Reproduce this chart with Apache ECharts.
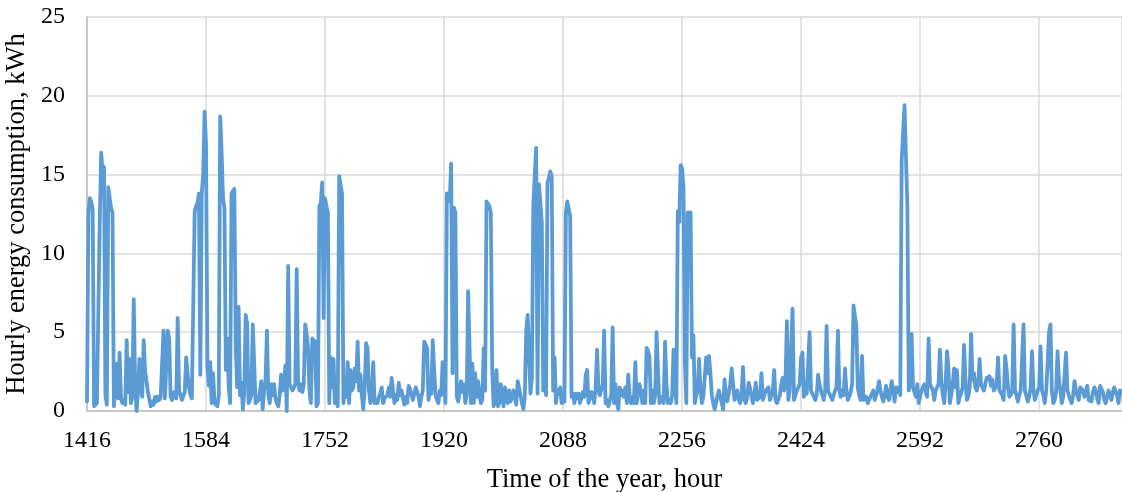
<!DOCTYPE html>
<html><head><meta charset="utf-8">
<script src="https://cdn.jsdelivr.net/npm/echarts@6/dist/echarts.min.js"></script>
<style>html,body{margin:0;padding:0;background:#fff}#c{width:1122px;height:492px}</style>
</head><body><div id="c"></div>
<script>
// Hour of the year at which the series starts and the sampling step (hours)
const startHour = 1416;
const stepHours = 2;
// X tick labels (hour of the year)
const xTicks = [1416, 1584, 1752, 1920, 2088, 2256, 2424, 2592, 2760];
// Y tick labels (kWh)
const yTicks = [0, 5, 10, 15, 20, 25];
// Hourly energy consumption, kWh, read every 2 hours (one row = one day)
const consumption = [
  0.6,12.5,13.5,13.3,12.8,0.3,0.2,0.5,0.4,12.0,16.4,15.2,
  15.5,1.0,0.4,14.2,13.5,12.9,12.6,0.3,0.2,3.0,0.8,3.7,
  0.8,0.5,0.7,0.4,4.5,1.2,3.3,0.5,0.9,7.1,1.5,0.0,
  1.2,3.3,1.5,0.9,4.5,2.5,1.9,1.2,1.1,0.3,0.6,0.4,
  0.9,0.6,0.9,0.7,0.9,1.0,5.1,0.8,0.7,5.1,4.6,0.9,
  0.7,1.2,1.0,0.8,5.9,1.3,1.0,0.7,0.8,1.2,3.4,2.4,
  1.5,1.0,0.8,0.7,12.6,13.0,13.2,13.8,2.3,13.8,15.0,19.0,
  17.0,2.9,1.6,3.1,0.5,2.4,0.5,0.4,0.3,1.0,18.7,16.5,
  13.5,12.9,2.6,4.6,1.6,0.5,13.8,13.9,14.1,4.0,1.5,6.6,
  1.0,1.8,0.1,1.2,6.1,5.6,0.5,0.7,1.0,5.5,5.6,0.5,
  0.6,0.7,1.2,1.9,0.1,1.3,1.9,5.1,1.0,0.5,1.7,1.0,
  1.7,0.8,0.5,0.3,1.0,2.3,1.3,1.5,2.9,0.0,9.2,1.7,
  1.7,1.3,1.5,1.7,9.0,1.8,1.3,1.7,1.2,1.7,5.5,4.9,
  4.0,1.3,0.5,4.6,4.5,4.4,0.3,0.5,13.0,13.2,14.5,5.9,
  13.5,13.0,12.6,0.5,3.4,1.5,3.3,0.5,0.7,0.3,14.9,15.0,
  13.8,0.5,1.2,0.9,3.1,0.5,2.6,1.3,1.5,2.7,1.9,4.4,
  1.3,2.3,1.0,0.1,1.5,4.3,4.0,1.3,0.5,1.0,3.1,0.5,
  0.7,0.5,0.9,1.1,1.5,0.5,0.8,0.7,1.0,1.5,0.9,2.1,
  1.3,0.5,1.0,0.7,1.8,1.0,1.3,0.8,0.4,0.9,0.5,1.6,
  1.4,1.5,0.7,1.1,1.5,1.4,0.9,0.3,0.9,1.3,4.4,4.3,
  4.0,0.7,1.3,1.1,4.5,2.7,1.0,0.7,0.5,1.3,1.0,3.1,
  1.8,0.5,13.8,13.5,13.3,15.7,2.4,12.9,12.6,0.9,0.6,0.5,
  1.9,1.2,1.7,0.5,1.0,7.6,7.5,0.5,3.0,0.5,2.4,0.9,
  1.9,1.0,0.5,0.7,4.0,1.3,13.3,13.2,13.0,12.6,2.6,0.3,
  0.8,2.6,0.3,0.5,1.7,1.2,0.3,1.5,1.0,0.5,1.3,0.6,
  0.5,1.3,0.8,0.4,1.9,1.9,1.0,0.5,0.1,0.9,5.1,6.1,
  6.0,1.1,2.1,13.0,13.1,16.7,1.1,14.4,14.3,12.0,1.3,3.4,
  1.0,14.5,14.8,15.2,14.9,1.3,3.4,0.5,1.3,1.1,1.5,0.5,
  0.5,0.6,12.6,13.3,12.8,12.4,0.9,1.1,0.5,1.1,0.8,1.1,
  0.5,0.5,1.2,0.9,2.3,2.6,0.5,0.9,1.2,0.9,0.5,1.5,
  3.9,1.3,1.0,0.9,1.7,5.1,0.5,0.7,0.3,0.3,1.0,5.3,
  0.5,1.7,0.5,0.1,1.5,1.0,1.3,0.9,1.5,0.5,2.3,1.0,
  0.5,0.9,0.5,3.1,0.5,1.2,1.7,1.6,0.5,1.3,0.5,4.0,
  3.8,3.4,0.5,1.3,0.5,1.0,5.0,2.6,0.5,0.9,0.7,0.5,
  4.4,1.7,0.5,0.7,0.5,1.0,3.9,1.7,0.5,12.7,12.0,15.6,
  15.4,14.2,3.0,0.5,12.6,12.4,12.6,3.4,4.8,0.5,1.0,1.3,
  3.3,1.3,0.5,0.9,0.9,3.4,2.4,3.5,2.4,1.0,0.5,0.1,
  0.5,1.0,1.3,0.9,0.5,0.1,2.0,0.9,0.6,0.5,1.7,2.7,
  2.7,0.7,1.0,1.3,0.7,0.5,1.0,2.8,0.7,0.5,0.9,1.8,
  1.8,1.0,0.5,1.0,1.8,0.7,0.7,0.9,2.4,0.7,1.0,1.3,
  1.3,1.5,0.7,0.7,1.2,2.6,0.7,0.5,0.5,1.0,1.7,2.1,
  1.3,2.0,5.7,0.7,1.3,1.2,6.5,0.7,1.0,1.3,1.3,1.7,
  3.4,3.7,0.9,1.3,1.1,1.1,5.0,1.3,1.3,0.9,0.7,1.0,
  2.3,1.7,1.3,1.0,0.7,1.3,5.4,1.3,1.3,0.9,0.7,0.7,
  1.3,1.5,5.1,1.3,0.9,1.3,1.0,2.7,1.3,0.7,0.9,1.2,
  1.7,6.7,6.0,5.4,1.5,1.0,0.7,3.5,0.7,0.7,0.9,0.5,
  0.7,0.9,1.1,1.3,0.7,0.7,1.3,1.9,1.3,0.9,0.6,1.0,
  1.6,0.9,0.7,0.7,1.9,1.2,0.6,1.5,1.2,1.5,1.0,15.9,
  15.8,19.4,19.3,13.0,1.3,1.7,4.9,1.5,1.2,0.9,1.7,0.5,
  0.5,1.3,1.5,1.7,1.2,0.9,4.6,1.7,1.5,1.3,0.7,1.3,
  1.3,1.7,3.9,1.9,1.0,0.5,1.7,3.8,2.7,0.5,1.0,1.7,
  2.7,1.5,2.6,0.5,0.9,1.1,1.5,4.2,2.0,0.7,0.9,1.5,
  4.9,2.0,2.4,1.5,1.3,1.7,3.3,1.7,1.5,1.3,1.3,2.1,
  2.1,2.2,1.6,2.0,1.3,1.4,1.6,3.4,1.3,1.3,1.0,0.7,
  3.5,2.7,1.5,0.9,0.9,1.2,5.5,1.3,1.0,0.6,1.0,1.3,
  1.2,5.5,1.3,1.3,0.6,0.9,1.5,3.8,1.3,0.7,0.7,1.3,
  1.5,4.1,1.3,1.0,0.5,1.3,3.0,5.0,5.5,1.3,0.5,0.7,
  1.2,3.8,2.0,1.3,0.5,0.9,0.9,3.7,1.3,1.0,0.7,0.5,
  1.0,1.9,1.3,1.0,0.7,1.5,1.4,1.3,0.9,1.2,1.6,0.7,
  0.6,0.6,1.2,1.5,1.3,0.8,0.5,1.6,1.5,1.2,0.7,0.5,
  0.6,1.3,1.0,0.7,1.2,1.5,1.6,1.0,0.5,1.3,1.1,1.2
];

const xMin = xTicks[0];
const xStep = xTicks[1] - xTicks[0];
const points = consumption.map((v, i) => [startHour + stepHours * i, v]);

const font = "'Liberation Serif','Times New Roman',serif";
const chart = echarts.init(document.getElementById('c'), null, {renderer: 'canvas'});
chart.setOption({
  animation: false,
  backgroundColor: '#fff',
  grid: {left: 87, right: 0, top: 17, bottom: 81, containLabel: false, outerBoundsMode: 'none'},
  xAxis: {
    type: 'value',
    min: xMin,
    max: 2877,
    interval: xStep,
    name: 'Time of the year, hour',
    nameLocation: 'middle',
    nameGap: 56,
    nameTextStyle: {fontFamily: font, fontSize: 26.5, color: '#000'},
    axisLine: {show: true, lineStyle: {color: '#bfbfbf', width: 1.5}},
    axisTick: {show: false},
    axisLabel: {
      fontFamily: font, fontSize: 24, color: '#000', margin: 18,
      showMaxLabel: false,
      formatter: v => xTicks.includes(v) ? String(v) : ''
    },
    splitLine: {show: true, lineStyle: {color: '#d9d9d9', width: 1.5}}
  },
  yAxis: {
    type: 'value',
    min: yTicks[0],
    max: yTicks[yTicks.length - 1],
    interval: yTicks[1] - yTicks[0],
    name: 'Hourly energy consumption, kWh',
    nameLocation: 'middle',
    nameGap: 48,
    nameTextStyle: {fontFamily: font, fontSize: 26.5, color: '#000'},
    axisLine: {show: true, lineStyle: {color: '#bfbfbf', width: 1.5}},
    axisTick: {show: false},
    axisLabel: {fontFamily: font, fontSize: 24, color: '#000', margin: 22},
    splitLine: {show: true, lineStyle: {color: '#d9d9d9', width: 1.5}}
  },
  series: [{
    type: 'line',
    data: points,
    showSymbol: false,
    symbol: 'none',
    lineStyle: {color: '#5b9bd5', width: 3.8, join: 'round', cap: 'round'},
    itemStyle: {color: '#5b9bd5'},
    clip: true
  }]
});
</script>
</body></html>
